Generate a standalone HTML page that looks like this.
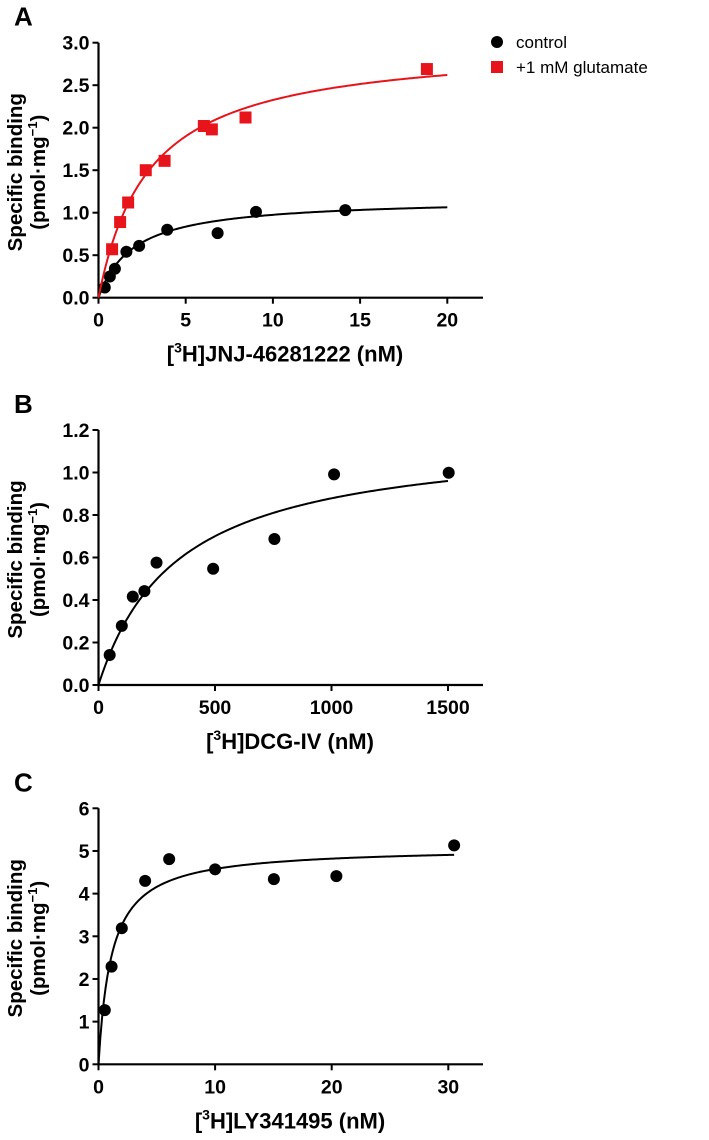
<!DOCTYPE html>
<html><head><meta charset="utf-8"><style>
body{margin:0;background:#fff;}
svg text{font-family:"Liberation Sans",Arial,sans-serif;font-weight:bold;fill:#000;}
</style></head><body>
<svg id="fig" width="709" height="1135" viewBox="0 0 709 1135" xmlns="http://www.w3.org/2000/svg"></svg>
<script>
// Panel A data
const aCtrlX=[0.36,0.65,0.94,1.6,2.33,3.94,6.83,9.03,14.15];
const aCtrlY=[0.12,0.25,0.34,0.54,0.61,0.80,0.76,1.01,1.03];
const aGluX=[0.78,1.24,1.7,2.71,3.79,6.04,6.5,8.43,18.83];
const aGluY=[0.57,0.89,1.12,1.50,1.61,2.02,1.98,2.12,2.69];
const aFitCtrl=[1.17,2.0];   // Bmax, Kd
const aFitGlu=[3.0,2.9];
const aXTicks=[0,5,10,15,20];
const aYTicks=["0.0","0.5","1.0","1.5","2.0","2.5","3.0"];
// Panel B data
const bX=[48,100,147,197,249,492,755,1011,1503];
const bY=[0.141,0.278,0.416,0.442,0.576,0.547,0.687,0.991,0.999];
const bFit=[1.179,342];
const bXTicks=[0,500,1000,1500];
const bYTicks=["0.0","0.2","0.4","0.6","0.8","1.0","1.2"];
// Panel C data
const cX=[0.54,1.12,2.0,4.0,6.06,10.0,15.04,20.4,30.5];
const cY=[1.27,2.29,3.19,4.30,4.81,4.57,4.34,4.41,5.13];
const cFit=[5.09,1.12];
const cXTicks=[0,10,20,30];
const cYTicks=["0","1","2","3","4","5","6"];

const svg=document.getElementById('fig');
const NS='http://www.w3.org/2000/svg';
function mk(tag,attrs,parent){const e=document.createElementNS(NS,tag);for(const k in attrs)e.setAttribute(k,attrs[k]);(parent||svg).appendChild(e);return e;}

function panel(cfg){
  const g=mk('g',{});
  
  
  const x0=98.5,x1=cfg.xr, y0=cfg.y0, y1=cfg.y1;
  const sx=v=>x0+(v-cfg.xmin)/(cfg.xmax-cfg.xmin)*(x1-x0);
  const sy=v=>y0-(v-cfg.ymin)/(cfg.ymax-cfg.ymin)*(y0-y1);
  const lt=mk('text',{x:14,y:cfg.y1-17,'font-size':26},g);lt.textContent=cfg.letter;
  
  
  const ya=mk('line',{x1:x0,y1:y1,x2:x0,y2:y0,stroke:'#000','stroke-width':2.2},g);
  
  
  const xa=mk('line',{x1:x0-1,y1:y0,x2:483,y2:y0,stroke:'#000','stroke-width':2.2},g);
  
  
  cfg.yt.forEach(t=>{const y=sy(parseFloat(t));
    mk('line',{x1:x0-6,y1:y,x2:x0,y2:y,stroke:'#000','stroke-width':2},g);
    const tx=mk('text',{x:x0-9,y:y+7,'font-size':19.5,'text-anchor':'end'},g);tx.textContent=t;
    
    });
  cfg.xt.forEach(t=>{const x=sx(t);
    mk('line',{x1:x,y1:y0,x2:x,y2:y0+6,stroke:'#000','stroke-width':2},g);
    const tx=mk('text',{x:x,y:y0+29,'font-size':19.5,'text-anchor':'middle'},g);tx.textContent=t;
    
    });
  const xtl=mk('text',{x:cfg.xtc,y:y0+64,'font-size':22,'text-anchor':'middle'},g);
  xtl.innerHTML='[<tspan font-size="14" dy="-9">3</tspan><tspan dy="9">H]'+cfg.xlab+'</tspan>';
  
  
  const cy=(y0+y1)/2+2;
  const ytl=mk('text',{x:0,y:0,'font-size':20.5,'text-anchor':'middle',transform:`translate(22,${cy}) rotate(-90)`},g);
  ytl.textContent='Specific binding';
  
  
  const ytl2=mk('text',{x:0,y:0,'font-size':20.5,'text-anchor':'middle',transform:`translate(45,${cy}) rotate(-90)`},g);
  ytl2.innerHTML='(pmol·mg<tspan font-size="13" dy="-8">−1</tspan><tspan dy="8">)</tspan>';
  
  
  cfg.series.forEach(s=>{
    let d='';const n=200;
    for(let i=0;i<=n;i++){const v=s.xend*i/n;const y=s.fit[0]*v/(s.fit[1]+v);d+=(i?'L':'M')+sx(v).toFixed(2)+','+sy(y).toFixed(2);}
    const p=mk('path',{d:d,fill:'none',stroke:s.color,'stroke-width':2},g);
    
    
    s.xs.forEach((v,i)=>{let m;
      if(s.square){m=mk('rect',{x:sx(v)-6,y:sy(s.ys[i])-6,width:12,height:12,fill:s.color},g);}
      else{m=mk('circle',{cx:sx(v),cy:sy(s.ys[i]),r:6,fill:s.color},g);}
      
      });
  });
}
panel({letter:'A',xr:447.3,y0:297.7,y1:42.7,xmin:0,xmax:20,ymin:0,ymax:3,yt:aYTicks,xt:aXTicks,xlab:'JNJ-46281222 (nM)',xtc:285,
 series:[{name:'control',xs:aCtrlX,ys:aCtrlY,fit:aFitCtrl,color:'#000',xend:20,square:false},
         {name:'glutamate',xs:aGluX,ys:aGluY,fit:aFitGlu,color:'#e8141b',xend:20,square:true}]});
panel({letter:'B',xr:448,y0:685,y1:430,xmin:0,xmax:1500,ymin:0,ymax:1.2,yt:bYTicks,xt:bXTicks,xlab:'DCG-IV (nM)',xtc:290,
 series:[{name:'dcg-iv',xs:bX,ys:bY,fit:bFit,color:'#000',xend:1500,square:false}]});
panel({letter:'C',xr:448.3,y0:1064.3,y1:808.3,xmin:0,xmax:30,ymin:0,ymax:6,yt:cYTicks,xt:cXTicks,xlab:'LY341495 (nM)',xtc:290,
 series:[{name:'ly341495',xs:cX,ys:cY,fit:cFit,color:'#000',xend:30.5,square:false}]});
// legend
const lg=mk('g',{});


const lc=mk('circle',{cx:497,cy:42,r:6,fill:'#000'},lg);


const lt1=mk('text',{x:516,y:48,'font-size':17,style:'font-weight:normal'},lg);lt1.textContent='control';


const lr=mk('rect',{x:491,y:61,width:12,height:12,fill:'#e8141b'},lg);


const lt2=mk('text',{x:516,y:73,'font-size':17,style:'font-weight:normal'},lg);lt2.textContent='+1 mM glutamate';


</script>
</body></html>
